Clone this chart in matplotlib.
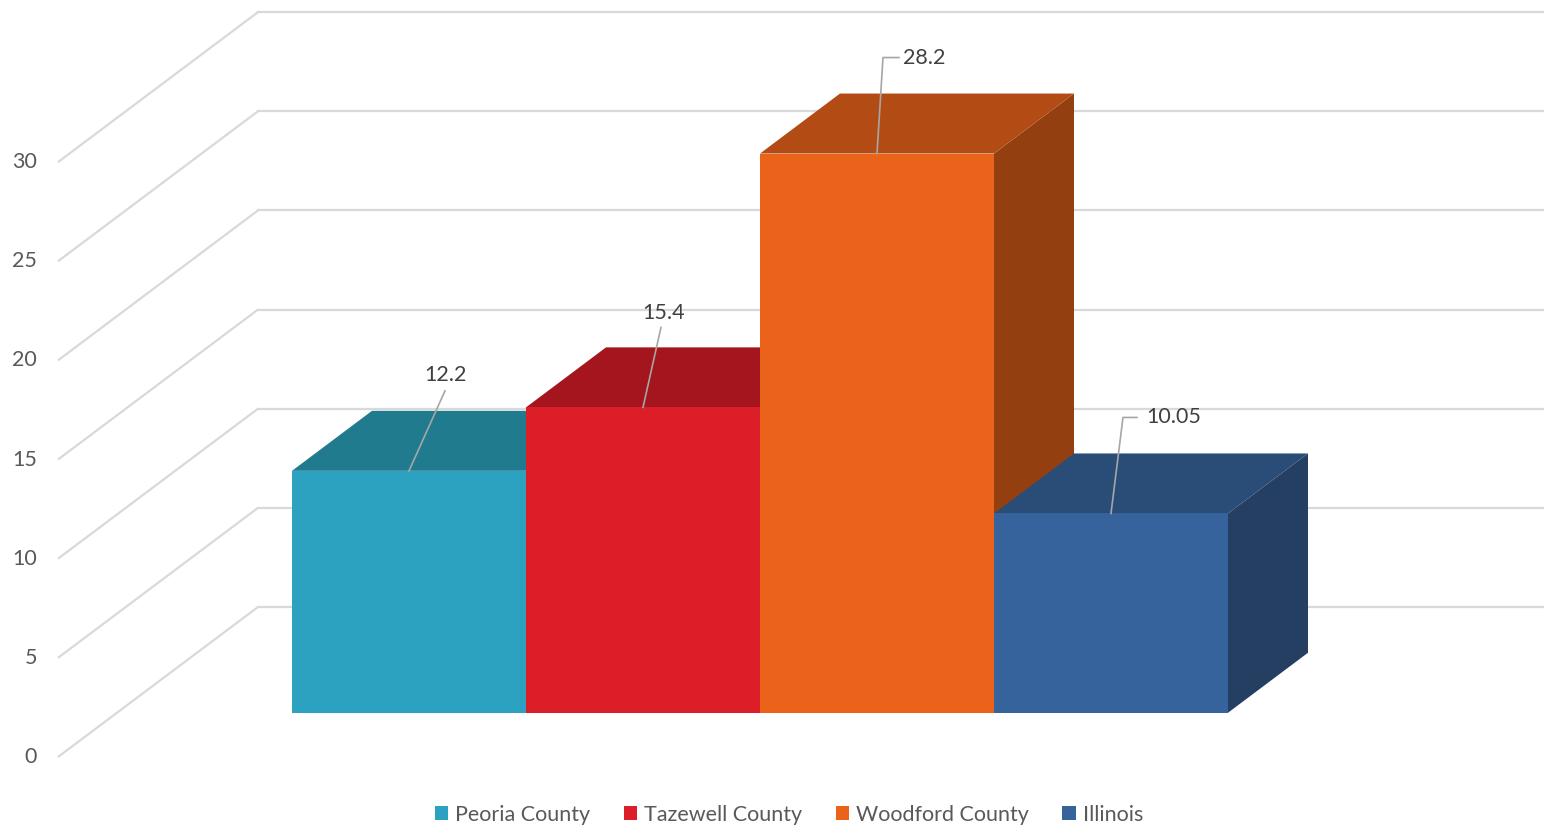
import matplotlib
matplotlib.use("Agg")
import matplotlib.pyplot as plt
from matplotlib.patches import Polygon, Patch

plt.rcParams['font.family'] = ['Lato', 'DejaVu Sans']

# Data
series = ['Peoria County', 'Tazewell County', 'Woodford County', 'Illinois']
values = [12.2, 15.4, 28.2, 10.05]
labels = ['12.2', '15.4', '28.2', '10.05']
y_ticks = [0, 5, 10, 15, 20, 25, 30]

# Colours: front, top, side
front_colors = ['#2CA1C0', '#DC1E29', '#EB631B', '#36639B']
top_colors = ['#217B8F', '#A5151E', '#B34C14', '#2A4D78']
side_colors = ['#1B6778', '#8E121A', '#933F10', '#243F62']

# Pseudo-3D geometry (data units)
px_x, px_y = 321.5, 19.83      # pixels per data unit
DX, DY = 200 / px_x, 150 / px_y  # wall depth offset
f0, f1 = 0.295, 0.695          # bar front / back depth fraction
bar_w = 234 / px_x
n_cat = 4

fig = plt.figure(figsize=(15.44, 8.27), dpi=100)
ax = fig.add_axes([0, 0, 1, 1])
ax.set_xlim(-58 / px_x, (1544 - 58) / px_x)
ax.set_ylim(-70 / px_y, (827 - 70) / px_y)
ax.axis('off')

grid_c = '#D9D9D9'
for v in y_ticks:
    # side wall diagonal
    ax.plot([0, DX], [v, v + DY], color=grid_c, lw=1.6, solid_capstyle='butt', zorder=1)
    # back wall line
    ax.plot([DX, n_cat + DX], [v + DY, v + DY], color=grid_c, lw=1.6, zorder=1)
    ax.text(-21 / px_x, v, str(v), ha='right', va='center', fontsize=15.5, color='#595959')


def shift(x, y, f):
    return (x + f * DX, y + f * DY)


for i, v in enumerate(values):
    x0 = n_cat / 2 + (i - len(values) / 2) * bar_w
    x1 = x0 + bar_w
    front = [shift(x0, 0, f0), shift(x1, 0, f0), shift(x1, v, f0), shift(x0, v, f0)]
    top = [shift(x0, v, f0), shift(x1, v, f0), shift(x1, v, f1), shift(x0, v, f1)]
    side = [shift(x1, 0, f0), shift(x1, 0, f1), shift(x1, v, f1), shift(x1, v, f0)]
    ax.add_patch(Polygon(side, closed=True, facecolor=side_colors[i], edgecolor='none', zorder=2 + i))
    ax.add_patch(Polygon(top, closed=True, facecolor=top_colors[i], edgecolor='none', zorder=2 + i))
    ax.add_patch(Polygon(front, closed=True, facecolor=front_colors[i], edgecolor='none', zorder=2 + i))

# data labels with leader lines (pixel offsets from the top front edge centre)
label_offsets = [(36, 80, None), (18, 80, None), (6, 96, 16), (12, 96, 14)]
text_offsets = [(36, 96, 'center'), (21, 94, 'center'), (26, 96, 'left'), (35, 96, 'left')]
for i, v in enumerate(values):
    x0 = n_cat / 2 + (i - len(values) / 2) * bar_w
    sx, sy = shift(x0 + bar_w / 2, v, f0)
    ldx, ldy, hor = label_offsets[i]
    xs = [sx, sx + ldx / px_x]
    ys = [sy, sy + ldy / px_y]
    if hor:
        xs.append(sx + (ldx + hor) / px_x)
        ys.append(sy + ldy / px_y)
    ax.plot(xs, ys, color='#A6A6A6', lw=1.2, zorder=10)
    tdx, tdy, ha = text_offsets[i]
    ax.text(sx + tdx / px_x, sy + tdy / px_y, labels[i], ha=ha, va='center',
            fontsize=15.5, color='#404040', zorder=11)

handles = [Patch(facecolor=c, edgecolor='none') for c in front_colors]
fig.legend(handles, series, loc='center', bbox_to_anchor=(789 / 1544, 12 / 827), ncol=4,
           frameon=False, fontsize=15.5, handlelength=0.62, handleheight=0.62,
           handletextpad=0.33, columnspacing=1.55, labelcolor='#595959')

fig.savefig('out.png', dpi=100)
